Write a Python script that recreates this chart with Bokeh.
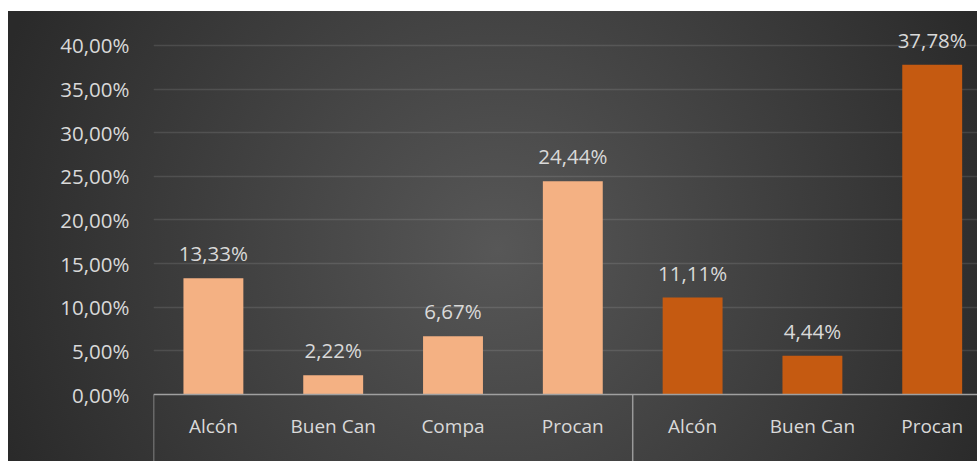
from bokeh.plotting import figure
from bokeh.models import FixedTicker, CustomJSTickFormatter, ColumnDataSource, Range1d
from bokeh.core.properties import value
from bokeh.embed import file_html
from bokeh.resources import INLINE

# ---- data ----
groups = ["Grupo 1", "Grupo 1", "Grupo 1", "Grupo 1", "Grupo 2", "Grupo 2", "Grupo 2"]
categories = ["Alcón", "Buen Can", "Compa", "Procan", "Alcón", "Buen Can", "Procan"]
values = [0.1333, 0.0222, 0.0667, 0.2444, 0.1111, 0.0444, 0.3778]
group_colors = {"Grupo 1": "#F4B183", "Grupo 2": "#C55A11"}
y_ticks = [0.0, 0.05, 0.10, 0.15, 0.20, 0.25, 0.30, 0.35, 0.40]

FONT = "Open Sans"
TXT = "#D9D9D9"

xs = list(range(len(categories)))
labels = [("%.2f" % (v * 100)).replace(".", ",") + "%" for v in values]
colors = [group_colors[g] for g in groups]
src = ColumnDataSource(dict(x=xs, top=values, color=colors, label=labels))

# group boundaries
bounds = [-0.5]
for i in range(1, len(groups)):
    if groups[i] != groups[i - 1]:
        bounds.append(i - 0.5)
bounds.append(len(groups) - 0.5)

y_end = 0.42865
y_start = -0.07679

p = figure(width=977, height=461, output_backend="svg", toolbar_location=None,
           x_range=Range1d(-0.5, 6.378), y_range=Range1d(y_start, y_end),
           min_border_left=153, min_border_right=0, min_border_top=20, min_border_bottom=0)
p.outline_line_color = None
p.border_fill_color = None
p.background_fill_color = None
p.styles = {
    "background": "linear-gradient(#ffffff,#ffffff) 0 0/100% 11px no-repeat, "
                  "linear-gradient(#ffffff,#ffffff) 0 0/8px 100% no-repeat, "
                  "radial-gradient(circle 530px at 51% 54%, #575757 0%, #2a2a2a 100%)"
}

# bars
p.vbar(x="x", top="top", width=0.5, bottom=0, color="color", line_color=None, source=src)

# data labels
p.text(x="x", y="top", text="label", source=src, text_align="center",
       text_baseline="alphabetic", y_offset=-25, text_color=TXT,
       text_font=value(FONT), text_font_size="20.5px")

# group separators below axis
p.segment(x0=bounds, y0=[0] * len(bounds), x1=bounds, y1=[y_start] * len(bounds),
          line_color="#9a9a9a", line_width=1.5)

# y axis
yax = p.yaxis[0]
yax.ticker = FixedTicker(ticks=y_ticks)
yax.formatter = CustomJSTickFormatter(code="return (tick*100).toFixed(2).replace('.', ',') + '%';")
yax.axis_line_color = None
yax.major_tick_line_color = None
yax.minor_tick_line_color = None
yax.major_label_standoff = 18
yax.major_label_text_color = TXT
yax.major_label_text_font = FONT
yax.major_label_text_font_size = "20.5px"

# x axis
xax = p.xaxis[0]
xax.fixed_location = 0
xax.ticker = FixedTicker(ticks=xs)
xax.major_label_overrides = {i: c for i, c in enumerate(categories)}
xax.axis_line_color = "#a0a0a0"
xax.axis_line_width = 1.5
xax.major_tick_line_color = None
xax.minor_tick_line_color = None
xax.major_label_standoff = 12
xax.major_label_text_color = TXT
xax.major_label_text_font = FONT
xax.major_label_text_font_size = "19px"

# grid
p.xgrid.grid_line_color = None
p.ygrid.ticker = FixedTicker(ticks=y_ticks[1:])
p.ygrid.grid_line_color = "#ffffff"
p.ygrid.grid_line_alpha = 0.11
p.ygrid.grid_line_width = 1.5

open("out.html", "w").write(file_html(p, INLINE))
